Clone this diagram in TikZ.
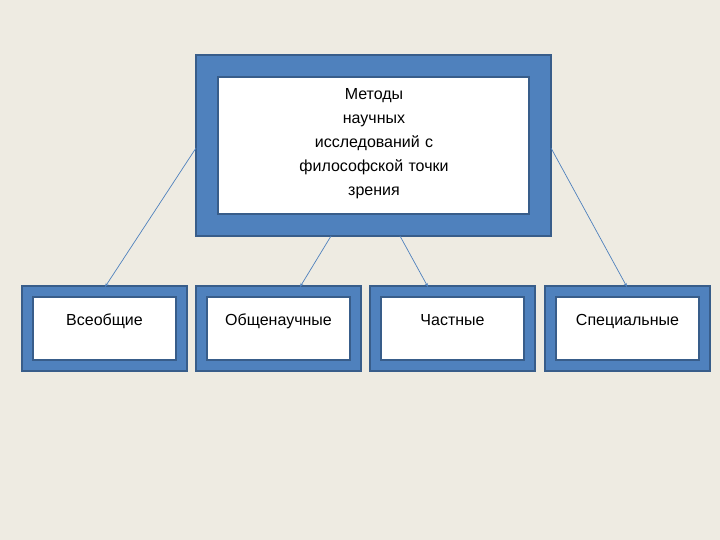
\documentclass[tikz,border=0pt]{standalone}
\usepackage{fontspec}
\setmainfont{Liberation Sans}
\usetikzlibrary{arrows.meta}
\begin{document}
\begin{tikzpicture}[x=1pt,y=-1pt,
  inner/.style={draw=blue2,line width=1.2pt,fill=white},
  con/.style={draw=blue3,line width=0.7pt,-{Stealth[length=4pt,width=3pt]}},
  lab/.style={font=\fontsize{16}{24}\selectfont,text width=260pt,align=center}]
\definecolor{blue1}{HTML}{4F81BD}
\definecolor{blue2}{HTML}{385D8A}
\definecolor{blue3}{HTML}{4F81BD}
\fill[fill={rgb,255:red,238;green,235;blue,226}] (0,0) rectangle (720,540);
\useasboundingbox (0,0) rectangle (720,540);
% top box
\fill[blue1,draw=blue2,line width=1.2pt] (196,55) rectangle (551,236);
\draw[inner] (218,77) rectangle (529,214);
\node[lab] (top) at (374,144) {Методы\\научных\\исследований с\\философской точки\\зрения};
\coordinate (tl) at (196,148);
\coordinate (tr) at (551,148);
\coordinate (tb1) at (331,236);
\coordinate (tb2) at (400,236);
% bottom boxes
\foreach \x/\n/\t in {22/b1/Всеобщие,196/b2/Общенаучные,370/b3/Частные,545/b4/Специальные}{
  \fill[blue1,draw=blue2,line width=1.2pt] (\x,286) rectangle ++(165,85);
  \draw[inner] (\x+11,297) rectangle ++(143,63);
  \node[font=\fontsize{16}{18}\selectfont,anchor=base] (\n) at (\x+82.5,325) {\t};
}
\coordinate (e1) at (105,287);
\coordinate (e2) at (300,287);
\coordinate (e3) at (428,287);
\coordinate (e4) at (627,287);
\draw[con] (tl) -- (e1);
\draw[con] (tb1) -- (e2);
\draw[con] (tb2) -- (e3);
\draw[con] (tr) -- (e4);
\end{tikzpicture}
\end{document}
